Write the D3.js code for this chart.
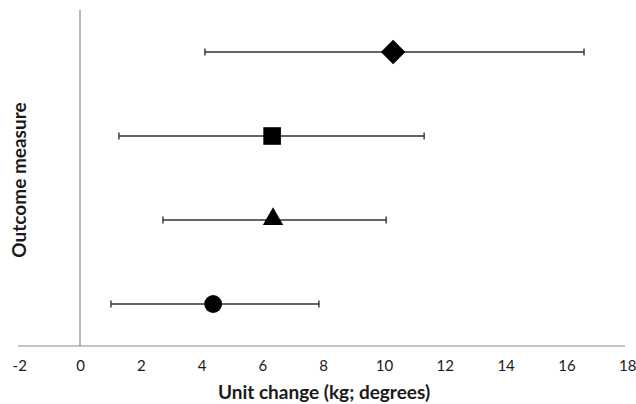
<!DOCTYPE html>
<html>
<head>
<meta charset="utf-8">
<script src="https://cdn.jsdelivr.net/npm/d3@7"></script>
<style>
  body { margin: 0; background: #fff; }
  text { font-family: Lato, "Open Sans", sans-serif; }
</style>
</head>
<body>
<div id="chart"></div>
<script>
// Outcome rows, top to bottom
var outcomes = ["A", "B", "C", "D"];
var shapes = ["diamond", "square", "triangle", "circle"];
var estimates = [10.3, 6.32, 6.35, 4.38];
var lowerCI = [4.11, 1.28, 2.73, 1.02];
var upperCI = [16.58, 11.32, 10.07, 7.86];
var xTicks = [-2, 0, 2, 4, 6, 8, 10, 12, 14, 16, 18];

var svgWidth = 636;
var svgHeight = 404;

var svg = d3.select("#chart")
  .append("svg")
  .attr("width", svgWidth)
  .attr("height", svgHeight);

// x scale: 0 sits at the vertical line
var xScale = d3.scaleLinear()
  .domain([-2, 18])
  .range([19.2, 627.2]);

var yScale = d3.scaleBand()
  .domain(outcomes)
  .range([10, 346]);

// horizontal axis line
svg.append("line")
  .attr("x1", 18)
  .attr("x2", 625)
  .attr("y1", 346)
  .attr("y2", 346)
  .attr("stroke", "#8c8c8c")
  .attr("stroke-width", 1.2);

// vertical line at zero
svg.append("line")
  .attr("x1", xScale(0))
  .attr("x2", xScale(0))
  .attr("y1", 10)
  .attr("y2", 346)
  .attr("stroke", "#8c8c8c")
  .attr("stroke-width", 1.2);

// tick labels
var bottomAxis = d3.axisBottom(xScale)
  .tickValues(xTicks)
  .tickSize(0)
  .tickPadding(14)
  .tickFormat(d => String(d));

var xAxis = svg.append("g")
  .attr("transform", "translate(0, 346)")
  .call(bottomAxis);
xAxis.select(".domain").remove();
xAxis.selectAll("text")
  .attr("font-size", 15)
  .attr("fill", "#1a1a1a")
  .style("font-family", "Lato, sans-serif");

// axis titles
svg.append("text")
  .attr("x", 324)
  .attr("y", 399)
  .attr("text-anchor", "middle")
  .attr("font-size", 19)
  .attr("font-weight", "bold")
  .attr("fill", "#1a1a1a")
  .text("Unit change (kg; degrees)");

svg.append("text")
  .attr("transform", "translate(26, 180) rotate(-90)")
  .attr("text-anchor", "middle")
  .attr("font-size", 19)
  .attr("font-weight", "bold")
  .attr("fill", "#1a1a1a")
  .text("Outcome measure");

var rows = outcomes.map(function (d, i) {
  return { key: d, shape: shapes[i], est: estimates[i], lo: lowerCI[i], hi: upperCI[i] };
});

var rowGroup = svg.selectAll(".row")
  .data(rows)
  .enter()
  .append("g")
  .attr("class", "row");

var cy = function (d) { return yScale(d.key) + yScale.bandwidth() / 2; };

// CI lines
rowGroup.append("line")
  .attr("x1", d => xScale(d.lo))
  .attr("x2", d => xScale(d.hi))
  .attr("y1", cy)
  .attr("y2", cy)
  .attr("stroke", "#333")
  .attr("stroke-width", 1.6);

// caps
["lo", "hi"].forEach(function (k) {
  rowGroup.append("line")
    .attr("x1", d => xScale(d[k]))
    .attr("x2", d => xScale(d[k]))
    .attr("y1", d => cy(d) - 3.5)
    .attr("y2", d => cy(d) + 3.5)
    .attr("stroke", "#333")
    .attr("stroke-width", 1.4);
});

// markers
var symbolMap = {
  diamond: d3.symbolSquare,
  square: d3.symbolSquare,
  triangle: d3.symbolTriangle,
  circle: d3.symbolCircle
};
var sizeMap = { diamond: 300, square: 310, triangle: 180, circle: 250 };

rowGroup.append("path")
  .attr("d", d => d3.symbol().type(symbolMap[d.shape]).size(sizeMap[d.shape])())
  .attr("transform", function (d) {
    var t = "translate(" + xScale(d.est) + "," + (cy(d) + (d.shape === "triangle" ? -1 : 0)) + ")";
    if (d.shape === "diamond") t += " rotate(45)";
    return t;
  })
  .attr("fill", "#000");
</script>
</body>
</html>
